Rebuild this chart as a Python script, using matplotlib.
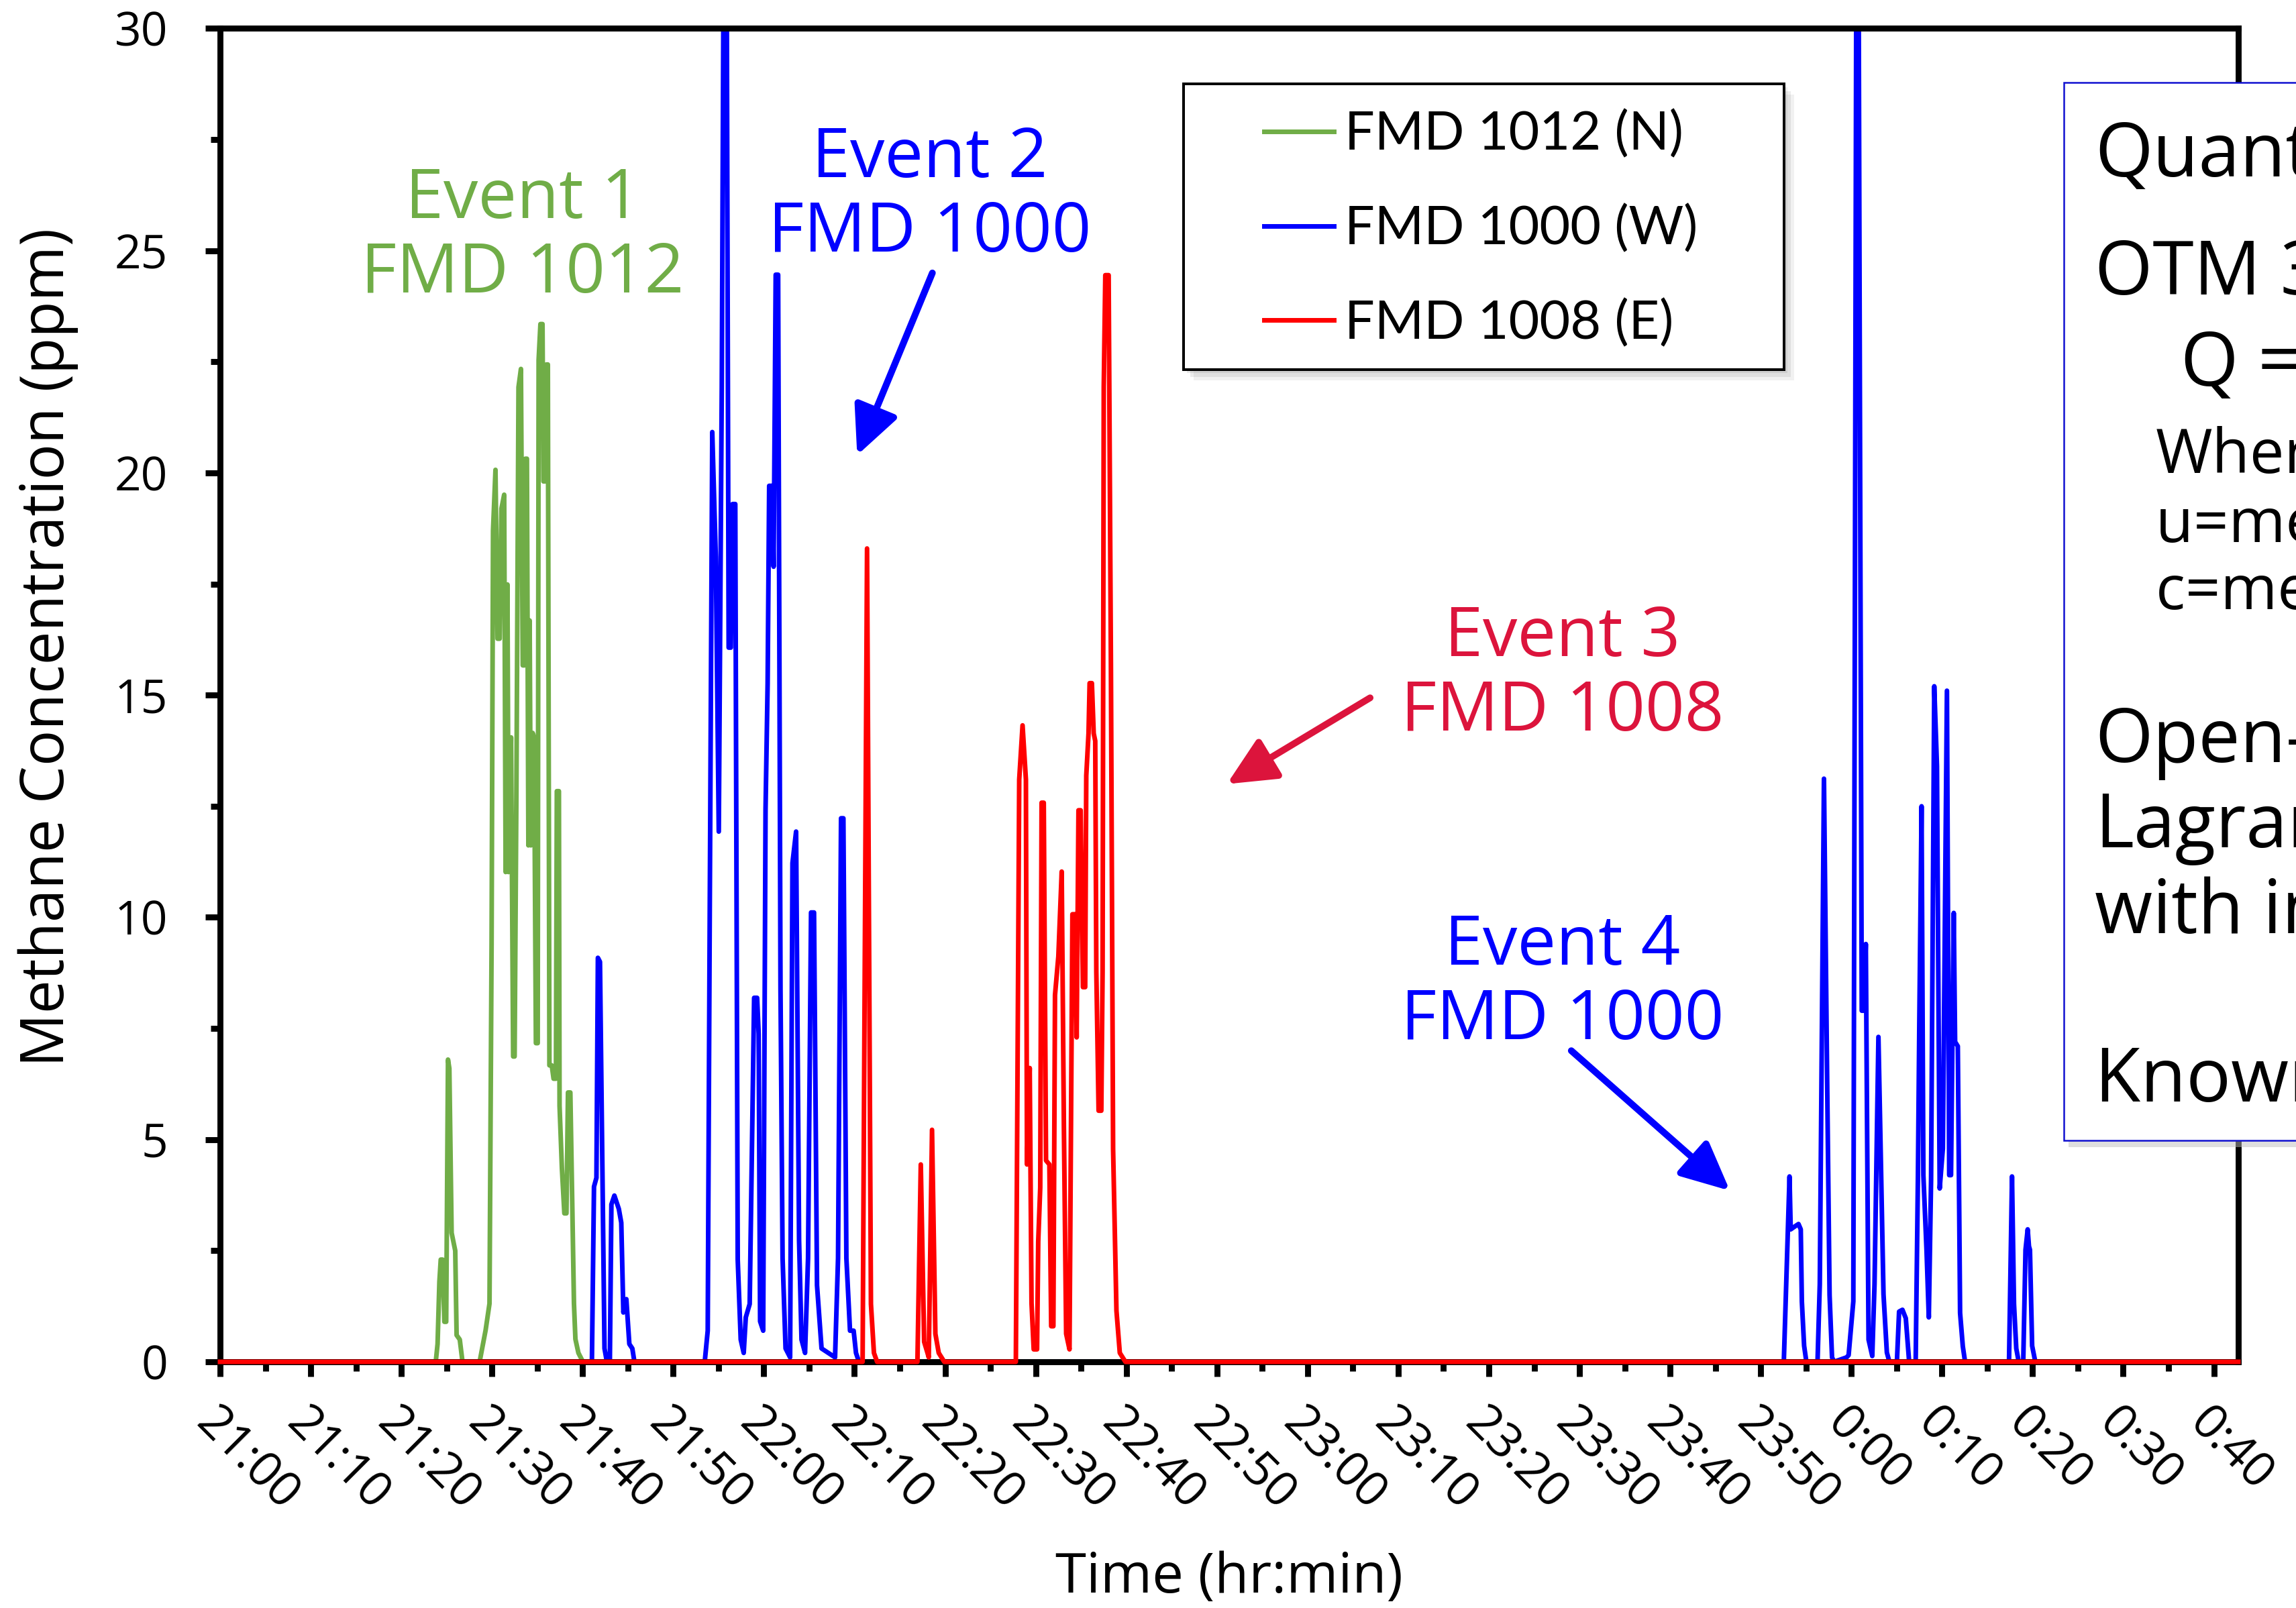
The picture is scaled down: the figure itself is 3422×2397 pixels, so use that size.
import matplotlib
matplotlib.use("Agg")
import matplotlib.pyplot as plt
from matplotlib.patches import Rectangle
from matplotlib.ticker import MultipleLocator

# time = minutes after 21:00, concentration in ppm
t_1012 = [0, 23.8, 24.0, 24.2, 24.35, 24.55, 24.75, 24.95, 25.15, 25.3, 25.55, 25.95, 26.1, 26.45, 26.75,
          28.64, 29.30, 29.73, 29.96, 30.12, 30.39, 30.62, 30.85, 31.05, 31.35, 31.51, 31.71, 31.84, 32.11,
          32.34, 32.50, 32.70, 32.93, 33.20, 33.40, 33.59, 33.69, 33.86, 34.02, 34.16, 34.29, 34.49, 34.65,
          34.85, 35.05, 35.15, 35.35, 35.58, 35.68, 35.84, 36.01, 36.17, 36.34, 36.60, 36.80, 37.06, 37.16,
          37.39, 37.46, 37.72, 37.99, 38.22, 38.39, 38.65, 38.88, 39.05, 39.21, 39.54, 40.04, 222.7]
c_1012 = [0, 0, 0.4, 1.8, 2.3, 2.3, 0.9, 0.9, 6.8, 6.6, 2.9, 2.5, 0.6, 0.5, 0,
          0, 0.71, 1.31, 9.40, 18.70, 20.07, 16.27, 16.27, 19.20, 19.51, 11.02, 17.49, 11.02, 14.05,
          6.87, 6.87, 12.84, 21.93, 22.34, 15.67, 15.67, 20.32, 20.32, 11.62, 16.68, 11.62, 14.15, 14.05,
          7.17, 7.17, 22.54, 23.35, 23.35, 19.81, 19.81, 22.44, 22.44, 6.67, 6.67, 6.37, 6.37, 12.84,
          12.84, 5.76, 4.35, 3.34, 3.34, 6.06, 6.06, 3.34, 1.31, 0.51, 0.20, 0, 0]

t_1000 = [0, 41.03, 41.26, 41.53, 41.69, 41.92, 42.19, 42.42, 42.68, 43.01, 43.18, 43.51, 44.0, 44.27, 44.5,
          44.83, 45.16, 45.49, 45.72,
          53.48, 53.81, 54.04, 54.31, 54.7, 55.03, 55.36, 55.56, 55.9, 56.12, 56.36, 56.55, 56.85, 57.12,
          57.45, 57.78, 58.01, 58.44, 58.67, 58.93, 59.26, 59.43, 59.59, 59.93, 60.19, 60.42, 60.59, 60.92,
          61.08, 61.31, 61.58, 61.84, 62.07, 62.4, 62.9, 63.16, 63.56, 63.89, 64.16, 64.55, 64.88, 65.21,
          65.54, 65.87, 66.37, 67.86, 68.19, 68.52, 68.78, 69.11, 69.51, 69.91, 70.17, 70.5,
          172.55, 173.18, 173.31, 173.8, 174.17, 174.42, 174.54, 174.79, 175.04, 176.27, 176.52, 176.98,
          177.35, 177.6, 177.87, 178.1, 179.48, 179.7, 180.22, 180.55, 180.8, 181.15, 181.35, 181.6, 181.9,
          182.31, 182.56, 182.99, 183.3, 183.55, 183.92, 184.2, 185.03, 185.27, 185.64, 186.01, 186.38,
          187.1, 187.35, 187.5, 187.75, 187.95, 188.3, 188.55, 188.8, 189.15, 189.45, 189.75, 190.1, 190.55,
          190.8, 191.0, 191.3, 191.45, 191.75, 192.0, 192.3, 192.55,
          197.4, 197.73, 197.95, 198.2, 198.47, 198.97, 199.22, 199.46, 199.6, 199.71, 199.95, 200.3, 222.7]
c_1000 = [0, 0, 3.94, 4.14, 9.09, 9.0, 4.35, 0.3, 0, 0, 3.54, 3.74, 3.44, 3.13, 1.11,
          1.41, 0.4, 0.3, 0,
          0, 0.7, 10.4, 20.92, 18.1, 11.93, 21.93, 31.5, 31.5, 16.07, 16.07, 19.3, 19.3, 2.3,
          0.5, 0.2, 1.0, 1.3, 4.55, 8.19, 8.19, 7.38, 0.91, 0.7, 12.43, 15.26, 19.71, 19.71,
          17.89, 24.46, 24.46, 8.39, 2.33, 0.3, 0.1, 11.22, 11.93, 2.73, 0.5, 0.2, 2.33, 10.11,
          10.11, 1.72, 0.3, 0.1, 2.33, 12.23, 12.23, 2.33, 0.7, 0.7, 0.2, 0,
          0, 4.17, 2.98, 3.05, 3.1, 2.98, 1.36, 0.36, 0, 0, 1.75, 13.12,
          6.0, 1.5, 0.1, 0, 0.1, 0.15, 1.36, 31.5, 31.5, 7.9, 7.9, 9.4, 0.5,
          0.13, 1.75, 7.31, 4.06, 1.52, 0.21, 0, 0, 1.13, 1.17, 0.98, 0,
          0, 4.2, 7.6, 12.5, 4.2, 2.5, 1.0, 4.1, 15.2, 13.4, 3.9, 4.8, 15.1,
          4.2, 4.2, 10.1, 7.2, 7.1, 1.1, 0.35, 0,
          0, 4.17, 1.3, 0.3, 0, 0, 2.52, 2.98, 2.6, 2.52, 0.36, 0, 0]

t_1008 = [0, 70.9, 71.39, 71.82, 72.15, 72.5,
          76.95, 77.32, 77.69, 78.06, 78.2, 78.56, 78.93, 79.3, 79.91,
          87.81, 88.18, 88.55, 88.92, 89.04, 89.34, 89.54, 89.78, 90.15, 90.28, 90.5, 90.65, 90.89, 91.14,
          91.51, 91.71, 91.95, 92.13, 92.5, 92.87, 93.11, 93.36, 93.73, 94.05, 94.35, 94.52, 94.72, 94.96,
          95.21, 95.46, 95.58, 95.83, 95.95, 96.2, 96.4, 96.57, 96.69, 96.94, 97.24, 97.38, 97.51, 97.68,
          98.05, 98.3, 98.54, 98.91, 99.28, 99.9, 222.7]
c_1008 = [0, 0, 18.3, 1.3, 0.2, 0,
          0, 4.44, 0.45, 0.2, 0.1, 5.22, 0.63, 0.2, 0,
          0, 13.1, 14.32, 13.1, 4.44, 6.61, 1.32, 0.28, 0.28, 2.71, 3.92, 12.58, 12.58, 4.53,
          4.44, 0.8, 0.8, 8.25, 9.12, 11.03, 5.31, 0.63, 0.28, 10.07, 10.07, 7.3, 12.41, 12.41,
          8.43, 8.43, 13.19, 14.14, 15.27, 15.27, 14.14, 13.97, 8.77, 5.65, 5.65, 8.77, 21.94, 24.45,
          24.45, 15.7, 4.79, 1.15, 0.2, 0, 0]

series_labels = ['FMD 1012 (N)', 'FMD 1000 (W)', 'FMD 1008 (E)']
series_colors = ['#70AD47', '#0000FF', '#FF0000']

x_tick_pos = list(range(0, 221, 10))
x_tick_labels = ['21:00', '21:10', '21:20', '21:30', '21:40', '21:50', '22:00', '22:10', '22:20',
                 '22:30', '22:40', '22:50', '23:00', '23:10', '23:20', '23:30', '23:40', '23:50',
                 '0:00', '0:10', '0:20', '0:30', '0:40']

box_lines = ['Quantification:', 'OTM 33A', 'Q = u \u00b7 c \u00b7 A', 'Where:', 'u=mean wind speed',
             'c=methane concentration', 'Open-path', 'Lagrangian', 'with inverse model', 'Known release']

plt.rcParams['font.family'] = 'Open Sans'

fig = plt.figure(figsize=(17.11, 11.985), dpi=200)
ax = fig.add_axes([0.09585, 0.15311, 0.87902, 0.82916])

l1, = ax.plot(t_1012, c_1012, color=series_colors[0], lw=2.5, zorder=2)
l2, = ax.plot(t_1000, c_1000, color=series_colors[1], lw=2.5, zorder=2.1)
l3, = ax.plot(t_1008, c_1008, color=series_colors[2], lw=2.5, zorder=3, clip_on=False)

ax.set_xlim(0, 222.7)
ax.set_ylim(0, 30)

for s in ax.spines.values():
    s.set_linewidth(3.2)

ax.set_yticks([0, 5, 10, 15, 20, 25, 30])
ax.yaxis.set_minor_locator(MultipleLocator(2.5))
ax.set_xticks(x_tick_pos, labels=x_tick_labels, rotation=-45, ha='left', rotation_mode='anchor')
ax.xaxis.set_minor_locator(MultipleLocator(5))
ax.tick_params(which='major', direction='out', length=7.9, width=3.2, labelsize=25)
ax.tick_params(which='minor', direction='out', length=5, width=3.2)
ax.tick_params(axis='y', which='major', pad=20)
ax.tick_params(axis='x', which='major', pad=12, labelsize=26)

ax.set_ylabel('Methane Concentration (ppm)', fontsize=32)
ax.yaxis.label.set_va('center')
ax.yaxis.set_label_coords(-0.0851, 0.536)
ax.set_xlabel('Time (hr:min)', fontsize=30)
ax.xaxis.label.set_va('center')
ax.xaxis.set_label_coords(0.5, -0.1625)

# event labels and arrows
ax.text(33.4, 25.3, 'Event 1\nFMD 1012', color='#70AD47', fontsize=37, ha='center', va='center', linespacing=1.1)
ax.text(78.3, 26.22, 'Event 2\nFMD 1000', color='#0000FF', fontsize=37, ha='center', va='center', linespacing=1.1)
ax.text(148.1, 15.44, 'Event 3\nFMD 1008', color='#DC143C', fontsize=37, ha='center', va='center', linespacing=1.1)
ax.text(148.1, 8.5, 'Event 4\nFMD 1000', color='#0000FF', fontsize=37, ha='center', va='center', linespacing=1.1)

arrow_style = '-|>,head_length=0.55,head_width=0.26'
ax.annotate('', xy=(70.3, 20.4), xytext=(78.6, 24.5),
            arrowprops=dict(arrowstyle=arrow_style, mutation_scale=40, lw=3.6, color='#0000FF', shrinkA=0, shrinkB=0))
ax.annotate('', xy=(111.1, 13.0), xytext=(126.9, 14.94),
            arrowprops=dict(arrowstyle=arrow_style, mutation_scale=40, lw=3.6, color='#DC143C', shrinkA=0, shrinkB=0))
ax.annotate('', xy=(166.6, 3.85), xytext=(149.1, 7.0),
            arrowprops=dict(arrowstyle=arrow_style, mutation_scale=40, lw=3.6, color='#0000FF', shrinkA=0, shrinkB=0))

# legend with its own framed box and soft shadow
for k, a in enumerate([0.12, 0.1, 0.08]):
    ax.add_patch(Rectangle((0.5155 + 0.0015 * (k + 1), 0.7701 - 0.0022 * (k + 1)), 0.2615, 0.1777,
                           transform=fig.transFigure, facecolor='0.3', edgecolor='none', alpha=a,
                           clip_on=False, zorder=3.8))
ax.add_patch(Rectangle((0.5155, 0.7701), 0.2615, 0.1777, transform=fig.transFigure, facecolor='white',
                       edgecolor='black', lw=1.44, clip_on=False, zorder=4))
ax.legend([l1, l2, l3], series_labels, loc='upper left', bbox_to_anchor=(1884 / 3422, 0.9316),
          bbox_transform=fig.transFigure, frameon=False, borderpad=0, borderaxespad=0,
          handlelength=1.31, handletextpad=0.2, labelspacing=0.85,
          prop={'family': 'Lato', 'size': 28.5})

# method text box at the right edge
fig.add_artist(Rectangle((0.8989 + 0.002, 0.2908 - 0.004), 0.2, 0.6579, transform=fig.transFigure,
                         facecolor='0.75', edgecolor='none', alpha=0.5, zorder=1))
fig.add_artist(Rectangle((0.8989, 0.2908), 0.2, 0.6579, transform=fig.transFigure,
                         facecolor='white', edgecolor='#1010D0', lw=0.9, zorder=1.1))
box_x = [0.9123, 0.9123, 0.9497, 0.9389, 0.9389, 0.9389, 0.9123, 0.9123, 0.9123, 0.9123]
box_y = [0.8903, 0.8169, 0.7601, 0.7059, 0.6629, 0.6212, 0.5261, 0.4731, 0.4197, 0.3150]
box_size = [40, 40, 40, 33, 33, 33, 40, 40, 40, 40]
for s, x, y, fs in zip(box_lines, box_x, box_y, box_size):
    fig.text(x, y, s, fontsize=fs, ha='left', va='baseline', color='black', zorder=3)

fig.savefig('out.png', dpi=200)
